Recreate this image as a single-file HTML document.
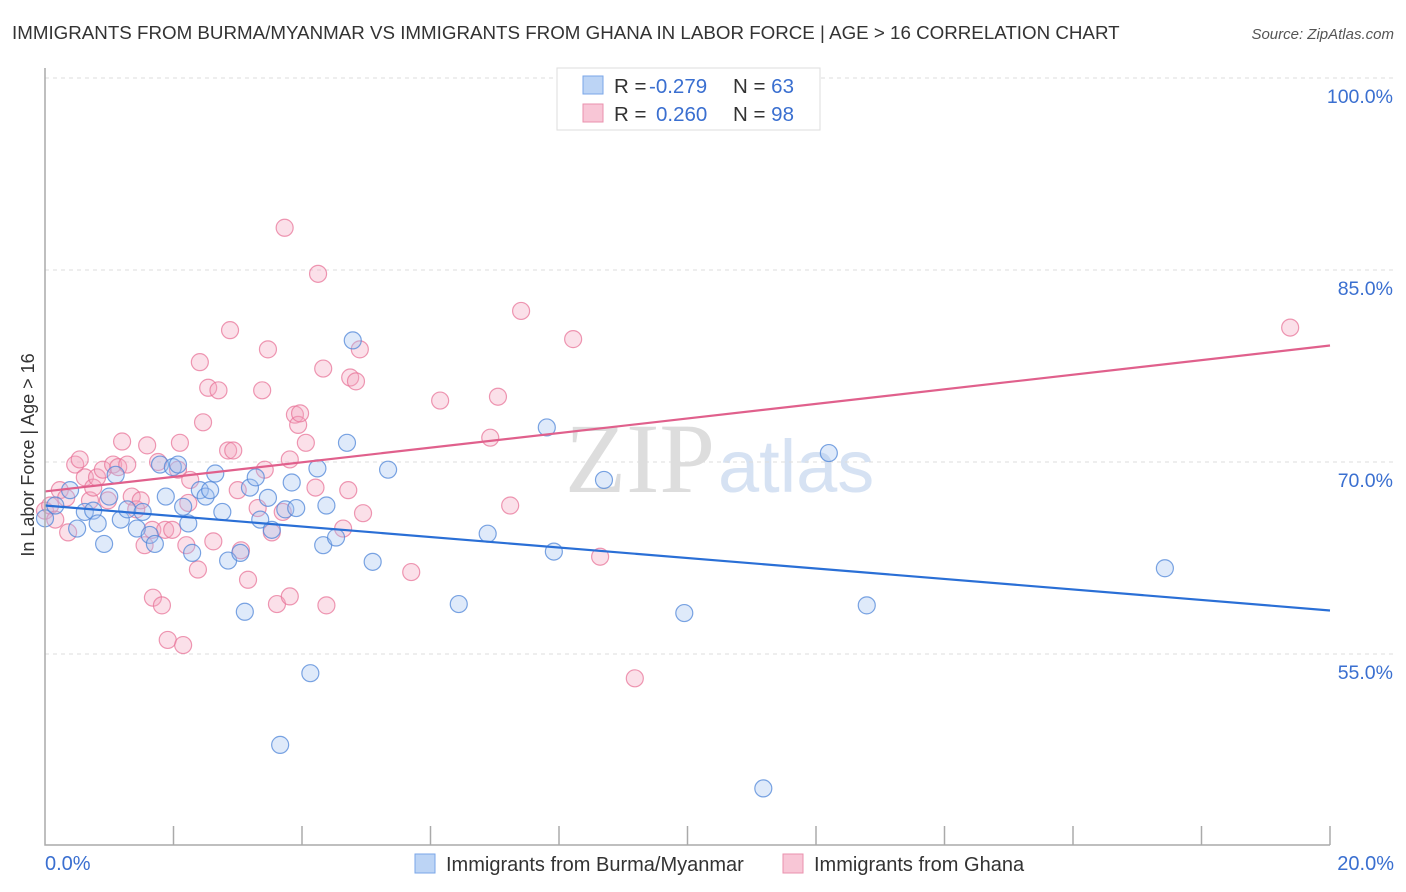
<!DOCTYPE html>
<html><head><meta charset="utf-8"><style>
body{margin:0;background:#fff;font-family:"Liberation Sans",sans-serif;}
#wrap{position:relative;width:1406px;height:892px;overflow:hidden}
</style></head><body>
<div id="wrap">
<svg id="svg" width="1406" height="892" xmlns="http://www.w3.org/2000/svg">
<text x="12" y="39" font-size="18.75" fill="#333">IMMIGRANTS FROM BURMA/MYANMAR VS IMMIGRANTS FROM GHANA IN LABOR FORCE | AGE &gt; 16 CORRELATION CHART</text>
<text x="1394" y="39" font-size="15" fill="#555" font-style="italic" text-anchor="end">Source: ZipAtlas.com</text>
<text x="715" y="492" font-size="100" fill="#ddd" font-family="Liberation Serif,serif" text-anchor="end">ZIP</text>
<text x="718" y="492" font-size="74" fill="#d6e2f3" text-anchor="start">atlas</text>
<g id="grid"></g><g id="pts"></g><g id="lines"></g><g id="axes"></g>
<text transform="translate(34,455) rotate(-90)" font-size="18" fill="#333" text-anchor="middle">In Labor Force | Age &gt; 16</text>
<g>
<rect x="557" y="68" width="263" height="62" fill="#fff" stroke="#ddd"/>
<rect x="583" y="76" width="20" height="18" fill="#bcd4f5" stroke="#7aa6e8"/>
<rect x="583" y="104" width="20" height="18" fill="#f8c6d6" stroke="#ea90ad"/>
<text x="614" y="93" font-size="20.5" fill="#333">R = <tspan fill="#3a6fd0" x="649">-0.279</tspan></text>
<text x="733" y="93" font-size="20.5" fill="#333">N = <tspan fill="#3a6fd0">63</tspan></text>
<text x="614" y="121" font-size="20.5" fill="#333">R = <tspan fill="#3a6fd0" x="656">0.260</tspan></text>
<text x="733" y="121" font-size="20.5" fill="#333">N = <tspan fill="#3a6fd0">98</tspan></text>
</g>
<g>
<rect x="415" y="854" width="20" height="19" fill="#bcd4f5" stroke="#7aa6e8"/>
<text x="446" y="871" font-size="20" fill="#333">Immigrants from Burma/Myanmar</text>
<rect x="783" y="854" width="20" height="19" fill="#f8c6d6" stroke="#ea90ad"/>
<text x="814" y="871" font-size="20" fill="#333">Immigrants from Ghana</text>
</g>
</svg>
</div>
<script>
const yTicks=[55,70,85,100];
const yTickLabels=["55.0%","70.0%","85.0%","100.0%"];
const xTickLabels=["0.0%","20.0%"];
const blueX=[0,0.16,0.39,0.5,0.62,0.75,0.82,0.92,1.0,1.1,1.18,1.28,1.43,1.52,1.63,1.71,1.79,1.88,1.99,2.07,2.15,2.23,2.29,2.41,2.5,2.57,2.65,2.76,2.85,3.04,3.11,3.19,3.28,3.35,3.47,3.53,3.66,3.74,3.84,3.91,4.13,4.24,4.33,4.38,4.53,4.7,4.79,5.1,5.34,6.44,6.89,7.81,7.92,8.7,9.95,11.18,12.2,12.79,17.43];
const blueY=[65.6,66.6,67.8,64.8,66.1,66.2,65.2,63.6,67.3,69.0,65.5,66.3,64.8,66.1,64.3,63.6,69.8,67.3,69.6,69.8,66.5,65.2,62.9,67.8,67.3,67.8,69.1,66.1,62.3,62.9,58.3,68.0,68.8,65.5,67.2,64.7,47.9,66.3,68.4,66.4,53.5,69.5,63.5,66.6,64.1,71.5,79.5,62.2,69.4,58.9,64.4,72.7,63.0,68.6,58.2,44.5,70.7,58.8,61.7];
const pinkX=[0,0.08,0.16,0.23,0.33,0.36,0.47,0.54,0.62,0.7,0.75,0.81,0.9,0.98,1.06,1.14,1.2,1.28,1.35,1.42,1.49,1.55,1.59,1.67,1.68,1.76,1.82,1.87,1.91,1.98,2.07,2.1,2.15,2.2,2.23,2.26,2.38,2.41,2.46,2.54,2.62,2.7,2.85,2.88,2.93,3.0,3.05,3.16,3.31,3.38,3.42,3.47,3.53,3.61,3.7,3.73,3.81,3.81,3.89,3.94,3.97,4.06,4.21,4.25,4.33,4.38,4.64,4.72,4.75,4.84,4.9,4.95,5.7,6.15,6.93,7.05,7.24,7.41,8.22,8.64,9.18,19.38];
const pinkY=[66.2,66.6,65.5,67.8,67.2,64.5,69.8,70.2,68.8,67.0,68.0,68.8,69.4,67.0,69.8,69.6,71.6,69.8,67.3,66.3,67.0,63.5,71.3,64.7,59.4,70.0,58.8,64.7,56.1,64.7,69.4,71.5,55.7,63.5,66.8,68.6,61.6,77.8,73.1,75.8,63.8,75.6,70.9,80.3,70.9,67.8,63.1,60.8,66.4,75.6,69.4,78.8,64.5,58.9,66.1,88.3,59.5,70.2,73.7,72.9,73.8,71.5,68.0,84.7,77.3,58.8,64.8,67.8,76.6,76.3,78.8,66.0,61.4,74.8,71.9,75.1,66.6,81.8,79.6,62.6,53.1,80.5];
const blueTrend=[66.6,58.4];
const pinkTrend=[67.7,79.1];
const X=v=>45+v/20*1285;
const Y=v=>78+(100-v)*12.8;
const NS="http://www.w3.org/2000/svg";
function mk(t,a,p){const e=document.createElementNS(NS,t);for(const k in a)e.setAttribute(k,a[k]);p.appendChild(e);return e;}
const grid=document.getElementById('grid'),axes=document.getElementById('axes'),pts=document.getElementById('pts'),lines=document.getElementById('lines');
yTicks.forEach((t,i)=>{
 const g=mk('line',{x1:45,x2:1394,y1:Y(t),y2:Y(t),stroke:'#ddd','stroke-dasharray':'4,4'},grid);
 
 
 const l=mk('text',{x:1393,y:Y(t)+25,'font-size':19.5,fill:'#3a6fd0','text-anchor':'end'},axes);
 l.textContent=yTickLabels[i];
 
 
});
const ax=mk('path',{d:'M45,68V845H1330',stroke:'#aaa',fill:'none','stroke-width':1.5},axes);


for(let i=1;i<=10;i++){
 const tk=mk('line',{x1:X(i*2),x2:X(i*2),y1:826,y2:845,stroke:'#aaa','stroke-width':1.5},axes);
 
 
}
[[0,'start',45],[20,'end',1394]].forEach((d,i)=>{
 const l=mk('text',{x:d[2],y:870,'font-size':20,fill:'#3a6fd0','text-anchor':d[1]},axes);
 l.textContent=xTickLabels[i];
 
 
});
function dots(xs,ys,fill,stroke,name){
 xs.forEach((x,i)=>{
  const c=mk('circle',{cx:X(x),cy:Y(ys[i]),r:8.5,fill:fill,'fill-opacity':0.35,stroke:stroke,'stroke-opacity':0.75,'stroke-width':1.2},pts);
  
  
 });
}
dots(pinkX,pinkY,'#f4a6bf','#e8769a','ghana-point');
dots(blueX,blueY,'#a4c3f0','#4f86d8','burma-point');
const bl=mk('line',{x1:X(0),y1:Y(blueTrend[0]),x2:X(20),y2:Y(blueTrend[1]),stroke:'#2a6fd6','stroke-width':2.2},lines);


const pl=mk('line',{x1:X(0),y1:Y(pinkTrend[0]),x2:X(20),y2:Y(pinkTrend[1]),stroke:'#e0608c','stroke-width':2.2},lines);


</script>
</body></html>
